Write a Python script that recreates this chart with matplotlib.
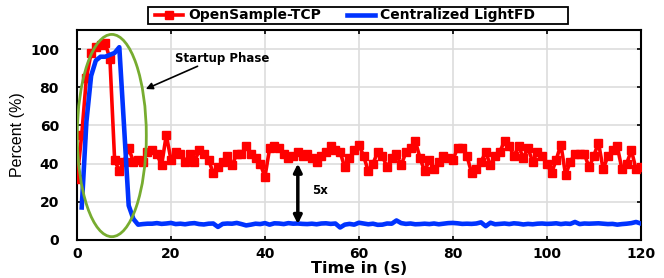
import matplotlib
matplotlib.use("Agg")
import matplotlib.pyplot as plt
from matplotlib.patches import Ellipse, Rectangle

plt.rcParams['font.family'] = ['DejaVu Sans']

t_red = list(range(0, 121))
red = [32, 55, 85, 98, 101, 102, 103, 95, 42, 36,
       41, 48, 41, 42, 41, 46, 47, 45, 39, 55,
       42, 46, 45, 41, 45, 41, 47, 45, 42, 35,
       38, 41, 44, 39, 45, 45, 49, 45, 43, 40,
       33, 48, 49, 48, 45, 43, 44, 46, 44, 45,
       43, 41, 44, 46, 49, 47, 46, 38, 43, 47,
       50, 44, 36, 40, 46, 44, 38, 43, 45, 39,
       46, 48, 52, 43, 36, 42, 37, 41, 44, 43,
       42, 48, 48, 44, 35, 37, 41, 46, 39, 44,
       46, 52, 49, 44, 49, 43, 48, 41, 46, 44,
       40, 35, 42, 50, 34, 41, 45, 45, 45, 38,
       44, 51, 37, 44, 47, 49, 37, 40, 47, 37, 38]

t_blue = list(range(1, 121))
blue = [17, 62, 86, 94, 96, 96, 97, 98, 101, 60,
        18, 11, 8.0, 8.3, 8.5, 8.5, 8.8, 8.4, 8.6, 8.9,
        8.3, 8.5, 8.2, 8.6, 8.8, 8.3, 8.1, 8.5, 8.6, 6.8,
        8.4, 8.6, 8.5, 8.9, 8.3, 7.6, 8.0, 8.5, 8.3, 8.8,
        8.0, 8.7, 8.6, 8.3, 8.8, 8.5, 8.6, 8.4, 8.3, 8.5,
        8.2, 8.6, 8.7, 8.4, 8.6, 6.5, 8.0, 8.4, 8.0, 9.0,
        8.6, 8.2, 8.5, 7.9, 8.0, 8.6, 8.5, 10.2, 8.8, 8.4,
        8.6, 8.2, 8.3, 8.5, 8.3, 8.6, 8.2, 8.5, 8.8, 8.9,
        8.7, 8.4, 8.5, 8.4, 8.6, 9.2, 7.2, 9.0, 8.2, 8.4,
        8.6, 8.3, 8.7, 8.5, 8.1, 8.4, 8.2, 8.5, 8.6, 8.4,
        8.5, 8.7, 8.3, 8.6, 8.4, 9.4, 8.3, 8.6, 8.5, 8.6,
        8.7, 8.5, 8.3, 8.4, 8.0, 8.3, 8.5, 8.8, 9.4, 8.6]

xticks = [0, 20, 40, 60, 80, 100, 120]
yticks = [0, 20, 40, 60, 80, 100]
series_names = ['OpenSample-TCP', 'Centralized LightFD']

fig = plt.figure(figsize=(6.64, 2.78), dpi=100)
ax = fig.add_axes([0.116, 0.137, 0.849, 0.755])

ax.plot(t_red, red, color='#ff0000', lw=2.6, marker='s', ms=6,
        mec='#ff0000', mfc='#ff0000', label=series_names[0], zorder=3)
ax.plot(t_blue, blue, color='#0033ff', lw=3.3, label=series_names[1], zorder=4)

ax.set_xlim(0, 120)
ax.set_ylim(0, 110)
ax.set_xticks(xticks)
ax.set_yticks(yticks)
ax.grid(True, color='#dddddd', lw=1.2)
ax.set_axisbelow(True)
ax.tick_params(direction='in', top=True, right=True, length=3, width=1.2,
               labelsize=10)
ax.tick_params(axis='y', pad=13)
ax.tick_params(axis='x', pad=5)
for lab in ax.get_xticklabels() + ax.get_yticklabels():
    lab.set_fontweight('bold')
for s in ax.spines.values():
    s.set_linewidth(1.5)

ax.set_xlabel('Time in (s)', fontsize=11.5, fontweight='bold', labelpad=0)
ax.set_ylabel('Percent (%)', fontsize=11.5, family=['Liberation Sans'])
ax.yaxis.set_label_coords(-0.092, 0.5)

ell = Ellipse((7.4, 54.7), 14.7, 106, fill=False, edgecolor='#77ac30', lw=2, zorder=5)
ax.add_patch(ell)

ax.annotate('', xy=(14.1, 78.5), xytext=(26.2, 91.6),
            arrowprops=dict(arrowstyle='-|>', color='black', lw=1.2,
                            mutation_scale=10), zorder=6)
ax.text(20.9, 95.2, 'Startup Phase', fontsize=8.5, fontweight='bold',
        va='center', ha='left')

ax.annotate('', xy=(47, 8.3), xytext=(47, 40),
            arrowprops=dict(arrowstyle='<|-|>', color='black', lw=2.5,
                            mutation_scale=12, shrinkA=0, shrinkB=0), zorder=6)
ax.text(50, 26, '5x', fontsize=8.5, fontweight='bold', va='center', ha='left')

fig.patches.append(Rectangle((148 / 664, 1 - 24 / 278), 420 / 664, 17 / 278,
                             transform=fig.transFigure, fill=False,
                             edgecolor='black', lw=1.3))
leg = fig.legend(loc='center left', bbox_to_anchor=(154 / 664, 1 - 15.5 / 278), ncol=2,
                 frameon=False, prop={'weight': 'bold', 'size': 10},
                 handlelength=2.0, columnspacing=1.9, borderpad=0.1,
                 handletextpad=0.35, borderaxespad=0)

fig.savefig('out.png', dpi=100)
